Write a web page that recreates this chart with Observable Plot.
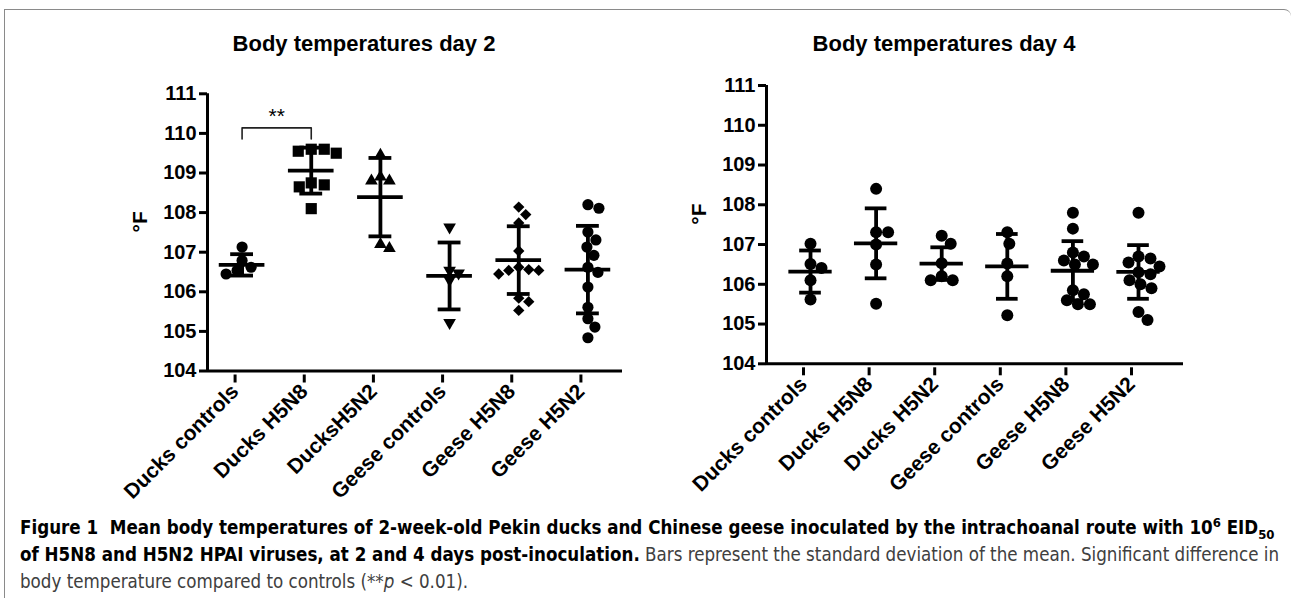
<!DOCTYPE html>
<html><head><meta charset="utf-8">
<script src="https://cdn.jsdelivr.net/npm/d3@7"></script>
<script src="https://cdn.jsdelivr.net/npm/@observablehq/plot@0.6"></script>
<style>
body{margin:0;background:#fff;width:1293px;height:598px;overflow:hidden;position:relative;font-family:"Liberation Sans",Arial,sans-serif}
#frame{position:absolute;left:4px;top:9px;width:1286px;height:620px;border-top:1.5px solid #8a8a8a;border-left:1.5px solid #8a8a8a;border-top-right-radius:7px}
.title{position:absolute;top:31px;font-family:"Liberation Sans",Arial,sans-serif;font-weight:bold;font-size:22px;transform:translateX(-50%);white-space:nowrap;color:#000}
.panel{position:absolute;top:0}
#caption{position:absolute;left:20px;top:514px;font-family:"Liberation Sans Narrow","DejaVu Sans Condensed",sans-serif;font-size:18px;line-height:27px;color:#404040;white-space:nowrap}
#caption b{color:#000}
#caption sup,#caption sub{font-size:0.7em;line-height:0}
</style></head>
<body>
<div id="frame"></div>
<div class="title" style="left:364px">Body temperatures day 2</div>
<div class="title" style="left:944px">Body temperatures day 4</div>
<div id="p2" class="panel" style="left:0px"></div>
<div id="p4" class="panel" style="left:640px"></div>
<div id="caption"><span id="cap1"><b>Figure 1&nbsp;&nbsp;Mean body temperatures of 2-week-old Pekin ducks and Chinese geese inoculated by the intrachoanal route with 10<sup>6</sup> EID<sub>50</sub></b></span><br><b>of H5N8 and H5N2 HPAI viruses, at 2 and 4 days post-inoculation.</b> Bars represent the standard deviation of the mean. Significant difference in<br>body temperature compared to controls (**<i>p</i> &lt; 0.01).</div>
<script>
// ---------- data ----------
const groupsDay2 = ["Ducks controls", "Ducks H5N8", "DucksH5N2", "Geese controls", "Geese H5N8", "Geese H5N2"];
const groupsDay4 = ["Ducks controls", "Ducks H5N8", "Ducks H5N2", "Geese controls", "Geese H5N8", "Geese H5N2"];
const yTicks = [104, 105, 106, 107, 108, 109, 110, 111];
const yLabel = "°F";

const day2DucksControls = [107.13, 106.79, 106.62, 106.54, 106.45];
const day2DucksH5N8 = [109.6, 109.6, 109.55, 109.5, 108.75, 108.7, 108.65, 108.1];
const day2DucksH5N2 = [109.45, 108.9, 108.8, 108.8, 107.2, 107.1];
const day2GeeseControls = [107.63, 106.54, 106.47, 106.3, 105.22];
const day2GeeseH5N8 = [108.14, 107.95, 107.74, 107.03, 106.62, 106.56, 106.54, 106.54, 106.45, 105.84, 105.75, 105.53];
const day2GeeseH5N2 = [108.2, 108.11, 107.51, 107.31, 107.13, 106.92, 106.62, 106.49, 106.12, 105.61, 105.32, 105.11, 104.84];
const day2Means = [106.68, 109.06, 108.39, 106.4, 106.8, 106.56];
const day2SDs = [0.27, 0.58, 0.99, 0.845, 0.855, 1.105];

const day4DucksControls = [107.02, 106.51, 106.41, 106.1, 105.62];
const day4DucksH5N8 = [108.4, 107.31, 107.31, 107.0, 106.5, 105.51];
const day4DucksH5N2 = [107.22, 107.02, 106.53, 106.2, 106.1, 106.1];
const day4GeeseControls = [107.31, 107.02, 106.52, 106.2, 105.22];
const day4GeeseH5N8 = [107.8, 107.4, 106.8, 106.7, 106.6, 106.5, 106.5, 105.85, 105.75, 105.6, 105.5, 105.5];
const day4GeeseH5N2 = [107.8, 106.7, 106.65, 106.55, 106.45, 106.3, 106.25, 106.1, 106.0, 105.9, 105.3, 105.1];
const day4Means = [106.32, 107.03, 106.52, 106.45, 106.34, 106.31];
const day4SDs = [0.53, 0.88, 0.41, 0.815, 0.745, 0.675];

const significance2 = [{from: 0, to: 1, label: "**", y: 110.14, drop: 0.28}];

// ---------- styles ----------
const FONT = "'Liberation Sans', Arial, sans-serif";
const triangleDown = {
  draw(ctx, size) {
    const y = -Math.sqrt(size / (Math.sqrt(3) * 3));
    ctx.moveTo(0, -2 * y);
    ctx.lineTo(-Math.sqrt(3) * y, y);
    ctx.lineTo(Math.sqrt(3) * y, y);
    ctx.closePath();
  }
};
const symbolsDay2 = [["circle", 5.6], ["square", 6.3], ["triangle", 4.7], [triangleDown, 4.7], ["diamond2", 5.1], ["circle", 5.6]];
const symbolsDay4 = [["circle", 6], ["circle", 6], ["circle", 6], ["circle", 6], ["circle", 6], ["circle", 6]];

function dodge(values, kx, ky, r) {
  const placed = [];
  const minD = 2 * r * 0.92;
  return values.map(v => {
    const py = v * ky;
    let off = 0;
    for (let k = 0; k < 200; k++) {
      const cand = k === 0 ? 0 : (k % 2 ? 1 : -1) * Math.ceil(k / 2);
      if (placed.every(p => Math.hypot(p.x - cand, p.y - py) >= minD)) { off = cand; break; }
    }
    placed.push({x: off, y: py});
    return off / kx;
  });
}

function panel(el, cfg) {
  const {groups, series, means, sds, symbols, width, height, mL, mR, mT, mB, xDomain, sig} = cfg;
  const kx = (width - mL - mR) / (xDomain[1] - xDomain[0]);
  const ky = (height - mT - mB) / (yTicks[yTicks.length - 1] - yTicks[0]);
  const stats = groups.map((g, i) => ({gi: i, mean: means[i], sd: sds[i]}));
  const dotMarks = series.map((vals, i) => {
    const [sym, r] = symbols[i];
    const offs = dodge(vals, kx, ky, r * 1.05);
    const pts = vals.map((v, j) => ({x: i + offs[j], y: v}));
    return Plot.dot(pts, {x: "x", y: "y", symbol: sym, r, fill: "black", stroke: "none"});
  });
  const marks = [
    ...dotMarks,
    Plot.ruleY(stats, {y: "mean", x1: d => d.gi - 0.33, x2: d => d.gi + 0.33, strokeWidth: 3.8, stroke: "black"}),
    Plot.ruleX(stats, {x: "gi", y1: d => d.mean - d.sd, y2: d => d.mean + d.sd, strokeWidth: 3.8, stroke: "black"}),
    Plot.ruleY(stats, {y: d => d.mean + d.sd, x1: d => d.gi - 0.165, x2: d => d.gi + 0.165, strokeWidth: 3.8, stroke: "black"}),
    Plot.ruleY(stats, {y: d => d.mean - d.sd, x1: d => d.gi - 0.165, x2: d => d.gi + 0.165, strokeWidth: 3.8, stroke: "black"}),
    Plot.ruleY([yTicks[0]], {strokeWidth: 3, stroke: "black"}),
    Plot.ruleX([xDomain[0]], {strokeWidth: 3, stroke: "black"}),
    Plot.axisY({ticks: yTicks, tickSize: 8, tickPadding: 3, strokeWidth: 3, label: null, tickFormat: d => String(d),
      fontFamily: FONT, fontSize: 20, fontWeight: "bold"}),
    Plot.axisX({ticks: d3.range(groups.length), tickFormat: i => groups[i], tickRotate: -45, tickSize: 8, tickPadding: 5,
      strokeWidth: 3, label: null, fontFamily: FONT, fontSize: 21, fontWeight: "bold", dx: -7, dy: 4}),
    Plot.text([yLabel], {frameAnchor: "left", dx: -67, rotate: -90, text: d => d, fontFamily: FONT, fontSize: 21, fontWeight: "bold"})
  ];
  if (sig) {
    sig.forEach(s => {
      const path = [
        {x: s.from, y: s.y - s.drop}, {x: s.from, y: s.y},
        {x: s.to, y: s.y}, {x: s.to, y: s.y - s.drop}
      ];
      marks.push(Plot.line(path, {x: "x", y: "y", stroke: "#222", strokeWidth: 1.6}));
      marks.push(Plot.text([s], {x: d => (d.from + d.to) / 2, y: d => d.y + 0.3, text: "label", fontFamily: FONT, fontWeight: "normal", fontSize: 21}));
    });
  }
  const chart = Plot.plot({
    width, height,
    marginLeft: mL, marginRight: mR, marginTop: mT, marginBottom: mB,
    x: {type: "linear", domain: xDomain},
    y: {domain: [yTicks[0], yTicks[yTicks.length - 1]]},
    style: {fontFamily: FONT, fontSize: "20px", fontWeight: "bold", background: "transparent", color: "black", overflow: "visible"},
    marks
  });
  el.appendChild(chart);
}

panel(document.getElementById("p2"), {
  groups: groupsDay2,
  series: [day2DucksControls, day2DucksH5N8, day2DucksH5N2, day2GeeseControls, day2GeeseH5N8, day2GeeseH5N2],
  means: day2Means, sds: day2SDs, symbols: symbolsDay2,
  width: 640, height: 480, mL: 207, mR: 18, mT: 93.3, mB: 109.5,
  xDomain: [-0.5, 5.5], sig: significance2
});
panel(document.getElementById("p4"), {
  groups: groupsDay4,
  series: [day4DucksControls, day4DucksH5N8, day4DucksH5N2, day4GeeseControls, day4GeeseH5N8, day4GeeseH5N2],
  means: day4Means, sds: day4SDs, symbols: symbolsDay4,
  width: 653, height: 480, mL: 126, mR: 110, mT: 85, mB: 116.7,
  xDomain: [-0.671, 5.686]
});

// fit caption first line to the reference width
const cap = document.getElementById("caption");
const line1 = document.getElementById("cap1");
const w = line1.getBoundingClientRect().width;
cap.style.fontSize = (18 * 1255 / w).toFixed(2) + "px";
</script>
</body></html>
